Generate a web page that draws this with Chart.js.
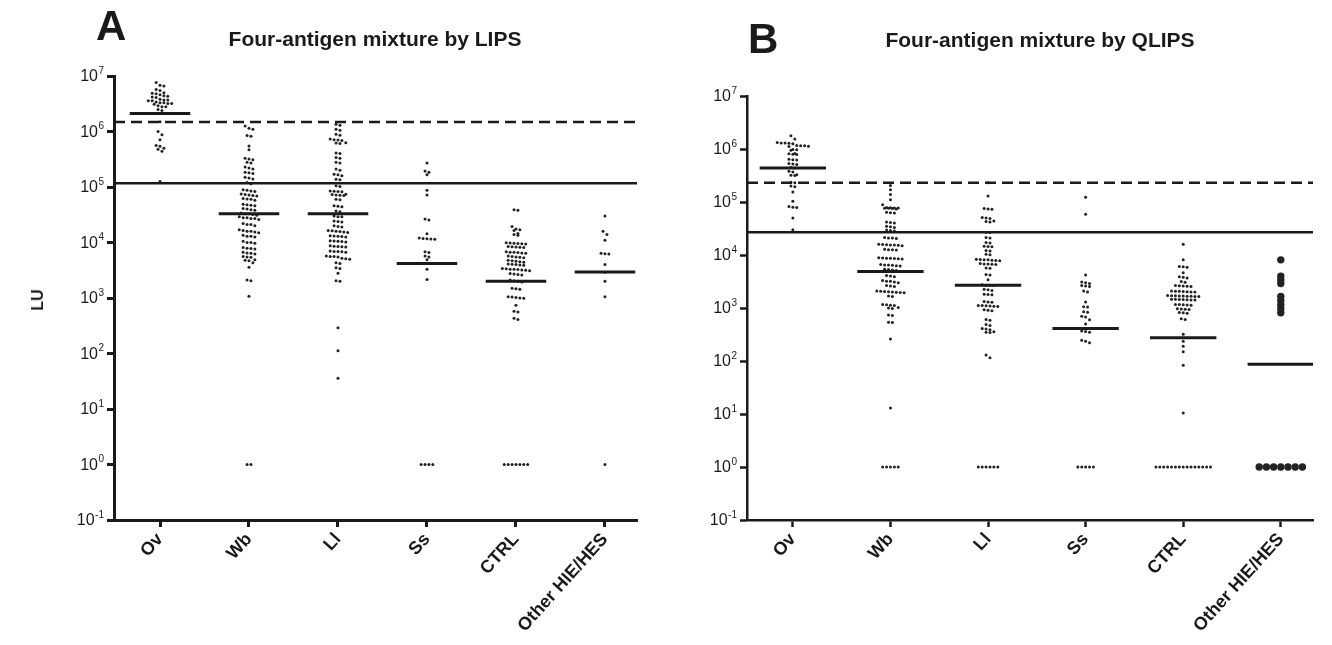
<!DOCTYPE html>
<html lang="en">
<head>
<meta charset="UTF-8" />
<title>Four-antigen mixture by LIPS / QLIPS</title>
<script src="https://cdn.jsdelivr.net/npm/chart.js"></script>
<style>
  body { margin: 0; background: #fff; overflow: hidden; }
  #wrap { position: relative; width: 1332px; height: 645px; font-family: "Liberation Sans", Arial, sans-serif; color: #1a1a1a; }
  canvas { position: absolute; top: 0; }
  .lbl { position: absolute; line-height: 1; white-space: nowrap; font-weight: bold; }
</style>
</head>
<body>
<div id="wrap">
  <canvas id="chartA" width="680" height="645" style="left:0"></canvas>
  <canvas id="chartB" width="652" height="645" style="left:680px"></canvas>
  <div class="lbl" style="left:96px; top:5px; font-size:42px">A</div>
  <div class="lbl" style="left:748px; top:18px; font-size:42px">B</div>
  <div class="lbl" style="left:375px; top:28px; font-size:21px; transform:translateX(-50%)">Four-antigen mixture by LIPS</div>
  <div class="lbl" style="left:1040px; top:29px; font-size:21px; transform:translateX(-50%)">Four-antigen mixture by QLIPS</div>
  <div class="lbl" style="left:38px; top:300px; font-size:16px; transform:translate(-50%,-50%) rotate(-90deg)">LU</div>
</div>
<script>
// categories and y ticks
const categories = ['Ov', 'Wb', 'Ll', 'Ss', 'CTRL', 'Other HIE/HES'];
const yExps = [-1, 0, 1, 2, 3, 4, 5, 6, 7];

// Panel A - LIPS (values in LU, 1 = below detection)
const lipsOv = [7.6e6, 6.8e6, 6.6e6, 5.7e6, 5.5e6, 5.0e6, 4.9e6, 4.8e6, 4.6e6, 4.4e6, 4.3e6, 4.2e6, 4.1e6, 3.8e6, 3.7e6, 3.7e6, 3.6e6, 3.6e6, 3.4e6, 3.3e6, 3.3e6, 3.2e6, 3.2e6, 3.1e6, 2.9e6, 2.8e6, 2.8e6, 2.5e6, 2.4e6, 2.1e6, 1.5e6, 1.0e6, 8.7e5, 7.1e5, 5.6e5, 5.4e5, 5.0e5, 4.8e5, 4.4e5, 1.25e5];
const lipsWb = [1.25e6, 1.15e6, 1.1e6, 8.5e5, 8.2e5, 5.5e5, 4.7e5, 3.3e5, 3.2e5, 3.1e5, 2.8e5, 2.7e5, 2.3e5, 2.2e5, 2.1e5, 1.85e5, 1.8e5, 1.75e5, 1.5e5, 1.45e5, 1.4e5, 1.2e5, 1.15e5,
  8.9e4, 8.7e4, 8.5e4, 8.3e4, 7.5e4, 7.3e4, 7.2e4, 7.0e4, 6.9e4, 6.2e4, 6.1e4, 6.0e4, 5.8e4, 4.9e4, 4.8e4, 4.7e4, 4.6e4, 4.1e4, 4.0e4, 3.9e4, 3.8e4,
  3.4e4, 3.3e4, 3.3e4, 3.2e4, 3.1e4, 2.9e4, 2.8e4, 2.8e4, 2.7e4, 2.7e4, 2.6e4, 2.2e4, 2.1e4, 2.1e4, 2.0e4, 1.7e4, 1.65e4, 1.6e4, 1.6e4, 1.55e4, 1.5e4,
  1.35e4, 1.3e4, 1.3e4, 1.25e4, 1.05e4, 1.0e4, 1.0e4, 9.7e3, 8.1e3, 7.9e3, 7.8e3, 7.6e3, 6.7e3, 6.5e3, 6.4e3, 6.2e3, 5.6e3, 5.5e3, 5.4e3,
  4.9e3, 4.8e3, 4.7e3, 4.3e3, 3.6e3, 2.1e3, 2.05e3, 1.08e3, 1, 1];
const lipsLl = [1.35e6, 1.3e6, 1.1e6, 1.05e6, 8.9e5, 8.6e5, 7.3e5, 7.1e5, 7.0e5, 6.9e5, 6.3e5, 6.2e5, 6.1e5, 4.1e5, 4.0e5, 3.4e5, 3.3e5, 2.8e5, 2.7e5, 2.1e5, 2.0e5,
  1.7e5, 1.66e5, 1.6e5, 1.38e5, 1.35e5, 1.05e5, 1.02e5, 8.5e4, 8.4e4, 8.3e4, 8.2e4, 7.4e4, 7.3e4, 7.2e4, 7.1e4, 7.0e4, 6.0e4, 5.9e4, 4.6e4, 4.5e4, 4.4e4,
  3.7e4, 3.6e4, 3.0e4, 2.9e4, 2.9e4, 2.45e4, 2.4e4, 2.35e4, 2.0e4, 1.95e4, 1.9e4, 1.65e4, 1.62e4, 1.6e4, 1.58e4, 1.55e4, 1.52e4,
  1.33e4, 1.31e4, 1.3e4, 1.28e4, 1.26e4, 1.07e4, 1.06e4, 1.05e4, 1.04e4, 1.02e4, 8.7e3, 8.6e3, 8.5e3, 8.4e3, 8.3e3, 7.0e3, 6.9e3, 6.9e3, 6.8e3, 6.7e3,
  5.7e3, 5.6e3, 5.6e3, 5.5e3, 5.2e3, 5.1e3, 5.0e3, 4.3e3, 4.2e3, 3.5e3, 3.4e3, 2.8e3, 2.05e3, 2.0e3, 290, 112, 36];
const lipsSs = [2.7e5, 1.95e5, 1.85e5, 1.66e5, 8.7e4, 7.2e4, 2.65e4, 2.55e4, 1.44e4, 1.2e4, 1.18e4, 1.17e4, 1.16e4, 1.15e4, 6.8e3, 6.6e3, 5.7e3, 5.5e3, 4.9e3, 3.3e3, 2.15e3, 1, 1, 1, 1];
const lipsCtrl = [3.9e4, 3.8e4, 1.95e4, 1.75e4, 1.7e4, 1.65e4, 1.45e4, 1.4e4, 1.35e4, 9.9e3, 9.8e3, 9.7e3, 9.6e3, 9.5e3, 9.4e3, 8.5e3, 8.4e3, 8.3e3, 8.2e3, 8.1e3,
  6.8e3, 6.7e3, 6.7e3, 6.6e3, 6.5e3, 6.4e3, 5.7e3, 5.6e3, 5.5e3, 5.4e3, 5.3e3, 4.8e3, 4.7e3, 4.6e3, 4.5e3, 4.4e3, 4.1e3, 4.05e3, 4.0e3, 3.95e3, 3.9e3,
  3.4e3, 3.35e3, 3.3e3, 3.3e3, 3.25e3, 3.2e3, 3.15e3, 3.1e3, 2.75e3, 2.7e3, 2.65e3, 2.6e3, 2.1e3, 2.05e3, 2.0e3, 1.95e3, 1.5e3, 1.47e3, 1.44e3,
  1.05e3, 1.04e3, 1.02e3, 1.0e3, 990, 740, 580, 560, 430, 410, 1, 1, 1, 1, 1, 1, 1];
const lipsOther = [3.0e4, 1.6e4, 1.4e4, 1.1e4, 6.4e3, 6.3e3, 6.2e3, 4.0e3, 2.9e3, 2.0e3, 1.05e3, 1];
const lipsMedians = [2.1e6, 3.3e4, 3.3e4, 4.2e3, 2.0e3, 2.95e3];
const lipsDashed = 1.48e6;
const lipsSolid = 1.17e5;

// Panel B - QLIPS
const qlipsOv = [1.78e6, 1.55e6, 1.32e6, 1.3e6, 1.3e6, 1.28e6, 1.26e6, 1.17e6, 1.15e6, 1.15e6, 1.13e6, 1.12e6, 9.8e5, 9.7e5, 9.5e5, 8.2e5, 8.1e5, 8.0e5, 7.9e5,
  6.4e5, 6.3e5, 6.2e5, 5.3e5, 5.2e5, 5.1e5, 4.5e5, 4.4e5, 3.8e5, 3.7e5, 3.25e5, 3.2e5, 3.15e5, 2.35e5, 2.3e5, 2.0e5, 1.95e5, 1.55e5, 1.03e5, 8.2e4, 8.0e4, 7.9e4, 5.0e4, 3.0e4];
const qlipsWb = [2.05e5, 1.7e5, 1.38e5, 1.1e5, 8.9e4, 7.9e4, 7.8e4, 7.7e4, 7.7e4, 7.6e4, 7.6e4, 7.5e4, 7.4e4, 6.4e4, 6.3e4, 6.2e4, 4.2e4, 4.1e4, 4.0e4, 3.5e4, 3.4e4, 3.3e4,
  2.95e4, 2.9e4, 2.85e4, 2.15e4, 2.1e4, 2.1e4, 2.05e4, 1.6e4, 1.58e4, 1.56e4, 1.55e4, 1.54e4, 1.52e4, 1.5e4, 1.28e4, 1.26e4, 1.25e4, 1.24e4,
  8.9e3, 8.8e3, 8.7e3, 8.7e3, 8.6e3, 8.5e3, 8.4e3, 6.6e3, 6.5e3, 6.5e3, 6.4e3, 6.3e3, 6.2e3, 5.4e3, 5.3e3, 5.2e3, 5.1e3, 4.1e3, 4.0e3, 3.9e3,
  3.3e3, 3.2e3, 3.2e3, 3.1e3, 3.0e3, 2.65e3, 2.6e3, 2.55e3, 2.1e3, 2.07e3, 2.05e3, 2.03e3, 2.0e3, 1.98e3, 1.96e3, 1.94e3, 1.68e3, 1.64e3,
  1.17e3, 1.15e3, 1.13e3, 1.12e3, 1.02e3, 1.0e3, 980, 740, 720, 540, 530, 260, 13, 1, 1, 1, 1, 1];
const qlipsLl = [2.3e5, 1.3e5, 7.5e4, 7.4e4, 7.3e4, 5.1e4, 5.0e4, 4.9e4, 4.4e4, 4.3e4, 4.2e4, 2.7e4, 2.65e4, 2.15e4, 2.1e4, 1.72e4, 1.68e4, 1.47e4, 1.45e4, 1.43e4,
  1.22e4, 1.19e4, 1.03e4, 1.01e4, 8.3e3, 8.2e3, 8.1e3, 8.1e3, 8.0e3, 7.9e3, 7.8e3, 6.9e3, 6.8e3, 6.8e3, 6.7e3, 6.6e3, 5.7e3, 5.6e3, 4.3e3, 4.2e3, 3.4e3,
  2.75e3, 2.7e3, 2.68e3, 2.65e3, 2.25e3, 2.2e3, 2.15e3, 1.82e3, 1.8e3, 1.78e3, 1.32e3, 1.3e3, 1.28e3, 1.12e3, 1.11e3, 1.1e3, 1.09e3, 1.08e3, 1.07e3,
  930, 910, 890, 610, 590, 490, 470, 410, 400, 390, 355, 350, 345, 130, 115, 1, 1, 1, 1, 1, 1];
const qlipsSs = [1.23e5, 5.9e4, 4.2e3, 3.1e3, 3.0e3, 2.9e3, 2.65e3, 2.6e3, 2.55e3, 2.1e3, 2.0e3, 1.3e3, 1.06e3, 1.04e3, 850, 830, 700, 680, 600, 500, 370, 360, 350, 245, 235, 220, 1, 1, 1, 1, 1];
const qlipsCtrl = [1.6e4, 8.1e3, 6.1e3, 6.0e3, 5.9e3, 4.6e3, 3.9e3, 3.8e3, 3.7e3, 3.15e3, 3.05e3, 2.65e3, 2.62e3, 2.6e3, 2.58e3, 2.55e3, 2.1e3, 2.08e3, 2.06e3, 2.05e3, 2.03e3, 2.01e3, 2.0e3,
  1.72e3, 1.71e3, 1.7e3, 1.69e3, 1.68e3, 1.67e3, 1.66e3, 1.65e3, 1.64e3, 1.47e3, 1.46e3, 1.45e3, 1.44e3, 1.43e3, 1.42e3, 1.41e3, 1.17e3, 1.16e3, 1.15e3, 1.14e3, 1.13e3,
  970, 960, 950, 940, 820, 810, 800, 630, 610, 320, 235, 190, 150, 83, 10.5, 1, 1, 1, 1, 1, 1, 1, 1, 1, 1, 1, 1, 1, 1, 1];
const qlipsOther = [8.1e3, 4.0e3, 3.4e3, 2.9e3, 1.65e3, 1.38e3, 1.15e3, 970, 810, 1, 1, 1, 1, 1, 1, 1];
const qlipsMedians = [4.4e5, 4.9e3, 2.7e3, 410, 275, 87];
const qlipsDashed = 2.3e5;
const qlipsSolid = 2.7e4;

// scatter-dot layout: group close values into rows, spread each row sideways
function swarm(vals, idx, decPx, catPx, rowPx, gapPx) {
  const sorted = vals.slice().sort((a, b) => b - a);
  const out = [];
  let row = [], top = 0;
  const flush = () => {
    row.forEach((v, i) => out.push({ x: idx + (i - (row.length - 1) / 2) * gapPx / catPx, y: v }));
    row = [];
  };
  sorted.forEach(v => {
    const py = Math.log10(v) * decPx;
    if (row.length && top - py > rowPx) flush();
    if (!row.length) top = py;
    row.push(v);
  });
  flush();
  return out;
}

const powLabels = {
  id: 'powLabels',
  afterDraw(chart) {
    const ctx = chart.ctx, ys = chart.scales.y;
    const xr = chart.chartArea.left - 10;
    ctx.save();
    ctx.fillStyle = '#1a1a1a';
    ctx.textBaseline = 'middle';
    yExps.forEach(e => {
      const py = ys.getPixelForValue(Math.pow(10, e));
      const s = String(e);
      ctx.font = '10px "Liberation Sans", Arial';
      const sw = ctx.measureText(s).width;
      ctx.textAlign = 'left';
      ctx.fillText(s, xr - sw, py - 5);
      ctx.font = '16px "Liberation Sans", Arial';
      ctx.textAlign = 'right';
      ctx.fillText('10', xr - sw - 0.5, py + 1);
    });
    ctx.restore();
  }
};

function buildChart(id, groups, medians, dashed, solid, g) {
  const datasets = [];
  const ink = '#1a1a1a';
  groups.forEach((vals, i) => {
    const big = g.bigGroup === i;
    datasets.push({
      type: 'scatter',
      data: swarm(vals, i, g.decPx, g.catPx, big ? 2 : 3.6, big ? 7.2 : 3.9),
      pointRadius: big ? 3.7 : 1.5,
      pointStyle: 'circle',
      backgroundColor: '#222',
      borderWidth: 0,
      order: 2
    });
    datasets.push({
      type: 'line',
      data: [{ x: i - 0.34, y: medians[i] }, { x: i + 0.34, y: medians[i] }],
      borderColor: ink, borderWidth: 3, pointRadius: 0, order: 1
    });
  });
  datasets.push({
    type: 'line',
    data: [{ x: g.xmin, y: dashed }, { x: g.xmax, y: dashed }],
    borderColor: ink, borderWidth: 2.5, borderDash: [11, 6], pointRadius: 0, order: 1
  });
  datasets.push({
    type: 'line',
    data: [{ x: g.xmin, y: solid }, { x: g.xmax, y: solid }],
    borderColor: ink, borderWidth: 2.5, pointRadius: 0, order: 1
  });

  const W = document.getElementById(id).width, H = document.getElementById(id).height;
  return new Chart(document.getElementById(id), {
    type: 'scatter',
    data: { datasets },
    options: {
      responsive: false,
      animation: false,
      events: [],
      layout: { padding: { left: 0, top: g.top, right: W - g.right, bottom: 0 } },
      plugins: { legend: { display: false }, tooltip: { enabled: false } },
      scales: {
        x: {
          type: 'linear', min: g.xmin, max: g.xmax,
          afterBuildTicks: s => { s.ticks = categories.map((c, i) => ({ value: i })); },
          afterFit: s => { s.height = H - g.bottom; },
          ticks: {
            autoSkip: false, minRotation: 48, maxRotation: 48, padding: 2,
            color: ink, font: { family: '"Liberation Sans", Arial', size: 18, weight: 'bold' },
            callback: v => categories[v]
          },
          grid: { drawOnChartArea: false, drawTicks: true, tickLength: 7, tickWidth: g.tickW, color: ink },
          border: { display: true, color: ink, width: g.axisW }
        },
        y: {
          type: 'logarithmic', min: 0.1, max: 1e7,
          afterBuildTicks: s => { s.ticks = yExps.map(e => ({ value: Math.pow(10, e) })); },
          afterFit: s => { s.width = g.left; },
          ticks: { display: false },
          grid: { drawOnChartArea: false, drawTicks: true, tickLength: 7, tickWidth: g.tickW, color: ink },
          border: { display: true, color: ink, width: g.axisW }
        }
      }
    },
    plugins: [powLabels]
  });
}

buildChart('chartA', [lipsOv, lipsWb, lipsLl, lipsSs, lipsCtrl, lipsOther], lipsMedians, lipsDashed, lipsSolid,
  { left: 114, right: 637, top: 76, bottom: 520, xmin: -0.517, xmax: 5.36, decPx: 55.5, catPx: 89, axisW: 3, tickW: 3 });
buildChart('chartB', [qlipsOv, qlipsWb, qlipsLl, qlipsSs, qlipsCtrl, qlipsOther], qlipsMedians, qlipsDashed, qlipsSolid,
  { left: 67, right: 633, top: 96, bottom: 520, xmin: -0.47, xmax: 5.33, decPx: 53, catPx: 97.6, axisW: 2.5, tickW: 2.5, bigGroup: 5 });
</script>
</body>
</html>
